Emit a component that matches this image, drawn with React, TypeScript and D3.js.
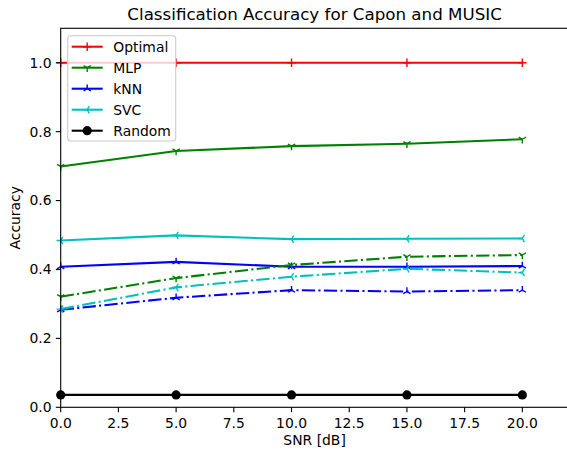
import React from 'react';
import * as d3 from 'd3';

// SNR values (dB)
const snr = [0, 5, 10, 15, 20];

// solid lines (labelled)
const optimal = [1.0, 1.0, 1.0, 1.0, 1.0];
const mlpA = [0.699, 0.744, 0.758, 0.765, 0.778];
const knnA = [0.408, 0.422, 0.408, 0.408, 0.41];
const svcA = [0.484, 0.499, 0.488, 0.489, 0.49];
const random = [0.036, 0.036, 0.036, 0.036, 0.036];

// dash-dot lines (second method, no legend entry)
const mlpB = [0.321, 0.375, 0.413, 0.437, 0.442];
const knnB = [0.283, 0.318, 0.34, 0.336, 0.34];
const svcB = [0.285, 0.348, 0.379, 0.402, 0.391];

const xTicks = [0, 2.5, 5, 7.5, 10, 12.5, 15, 17.5, 20];
const yTicks = [0, 0.2, 0.4, 0.6, 0.8, 1.0];

const W = 567;
const H = 453;
const margin = { left: 60.7, top: 28.3, right: 568.5, bottom: 407.3 };
const FONT = 'DejaVu Sans, sans-serif';
const LW = 2.08;
const DASHDOT = '13.3 3.3 2.1 3.3';

type Marker = 'plus' | 'tri_down' | 'tri_up' | 'tri_left' | 'circle';

const series = [
  { name: 'Optimal', values: optimal, color: '#ff0000', marker: 'plus' as Marker, dash: null, legend: true },
  { name: 'MLP', values: mlpA, color: '#008000', marker: 'tri_down' as Marker, dash: null, legend: true },
  { name: 'kNN', values: knnA, color: '#0000ff', marker: 'tri_up' as Marker, dash: null, legend: true },
  { name: 'SVC', values: svcA, color: '#00bfbf', marker: 'tri_left' as Marker, dash: null, legend: true },
  { name: 'Random', values: random, color: '#000000', marker: 'circle' as Marker, dash: null, legend: true },
  { name: 'MLP2', values: mlpB, color: '#008000', marker: 'tri_down' as Marker, dash: DASHDOT, legend: false },
  { name: 'kNN2', values: knnB, color: '#0000ff', marker: 'tri_up' as Marker, dash: DASHDOT, legend: false },
  { name: 'SVC2', values: svcB, color: '#00bfbf', marker: 'tri_left' as Marker, dash: DASHDOT, legend: false },
];

const MarkerShape = ({ type, cx, cy, color }: { type: Marker; cx: number; cy: number; color: string }) => {
  const r = 4.2;
  const sw = 1.4;
  if (type === 'circle') return <circle cx={cx} cy={cy} r={4.6} fill={color} />;
  if (type === 'plus') {
    return (
      <path d={`M${cx - r},${cy}H${cx + r}M${cx},${cy - r}V${cy + r}`} stroke={color} strokeWidth={sw} fill="none" />
    );
  }
  // tri markers: three arms from the centre
  const angles: Record<string, number[]> = {
    tri_down: [90, 210, 330],
    tri_up: [270, 30, 150],
    tri_left: [180, 60, 300],
  };
  const d = angles[type]
    .map(a => {
      const rad = (a * Math.PI) / 180;
      return `M${cx},${cy}L${cx + r * Math.cos(rad)},${cy + r * Math.sin(rad)}`;
    })
    .join('');
  return <path d={d} stroke={color} strokeWidth={sw} fill="none" />;
};

export default function App() {
  const x = d3.scaleLinear().domain([0, 22]).range([margin.left, margin.right]);
  const y = d3.scaleLinear().domain([0, 1.1]).range([margin.bottom, margin.top]);

  const line = d3
    .line<number>()
    .x((_, i) => x(snr[i]))
    .y(d => y(d));

  const legendItems = series.filter(s => s.legend);
  const legX = 67.7;
  const legY = 35.7;
  const rowH = 21;

  return (
    <svg
      width={W}
      height={H}
      style={{ position: 'absolute', left: 0, top: 0, background: '#fff' }}
      fontFamily={FONT}
    >
      <rect x={0} y={0} width={W} height={H} fill="#fff" />

      {/* title */}
      <text x={(margin.left + margin.right) / 2} y={20} textAnchor="middle" fontSize={16.7} fill="#000">
        Classification Accuracy for Capon and MUSIC
      </text>

      {/* lines */}
      {series.map(s => (
        <g key={s.name}>
          <path
            d={line(s.values) || ''}
            fill="none"
            stroke={s.color}
            strokeWidth={LW}
            strokeDasharray={s.dash || undefined}
          />
          {s.values.map((v, i) => (
            <MarkerShape key={i} type={s.marker} cx={x(snr[i])} cy={y(v)} color={s.color} />
          ))}
        </g>
      ))}

      {/* spines */}
      <rect
        x={margin.left}
        y={margin.top}
        width={margin.right - margin.left}
        height={margin.bottom - margin.top}
        fill="none"
        stroke="#000"
        strokeWidth={1.1}
      />

      {/* x axis ticks */}
      {xTicks.map(t => (
        <g key={t}>
          <line x1={x(t)} x2={x(t)} y1={margin.bottom} y2={margin.bottom + 4.9} stroke="#000" strokeWidth={1.1} />
          <text x={x(t)} y={428} textAnchor="middle" fontSize={13.9} fill="#000">
            {d3.format('.1f')(t)}
          </text>
        </g>
      ))}
      <text x={(margin.left + margin.right) / 2} y={445} textAnchor="middle" fontSize={13.9} fill="#000">
        SNR [dB]
      </text>

      {/* y axis ticks */}
      {yTicks.map(t => (
        <g key={t}>
          <line x1={margin.left - 4.9} x2={margin.left} y1={y(t)} y2={y(t)} stroke="#000" strokeWidth={1.1} />
          <text x={51.5} y={y(t)} dy="0.35em" textAnchor="end" fontSize={13.9} fill="#000">
            {d3.format('.1f')(t)}
          </text>
        </g>
      ))}
      <text
        transform={`translate(20,${(margin.top + margin.bottom) / 2}) rotate(-90)`}
        textAnchor="middle"
        fontSize={13.9}
        fill="#000"
      >
        Accuracy
      </text>

      {/* legend */}
      <rect
        x={legX}
        y={legY}
        width={108}
        height={105.3}
        rx={3}
        fill="#fff"
        fillOpacity={0.8}
        stroke="#cccccc"
        strokeWidth={1.1}
      />
      {legendItems.map((s, i) => {
        const cy = 46.7 + i * rowH;
        return (
          <g key={s.name}>
            <line x1={71.7} x2={102.7} y1={cy} y2={cy} stroke={s.color} strokeWidth={LW} />
            <MarkerShape type={s.marker} cx={87.2} cy={cy} color={s.color} />
            <text x={113.3} y={cy} dy="0.35em" fontSize={13.9} fill="#000">
              {s.name}
            </text>
          </g>
        );
      })}
    </svg>
  );
}
